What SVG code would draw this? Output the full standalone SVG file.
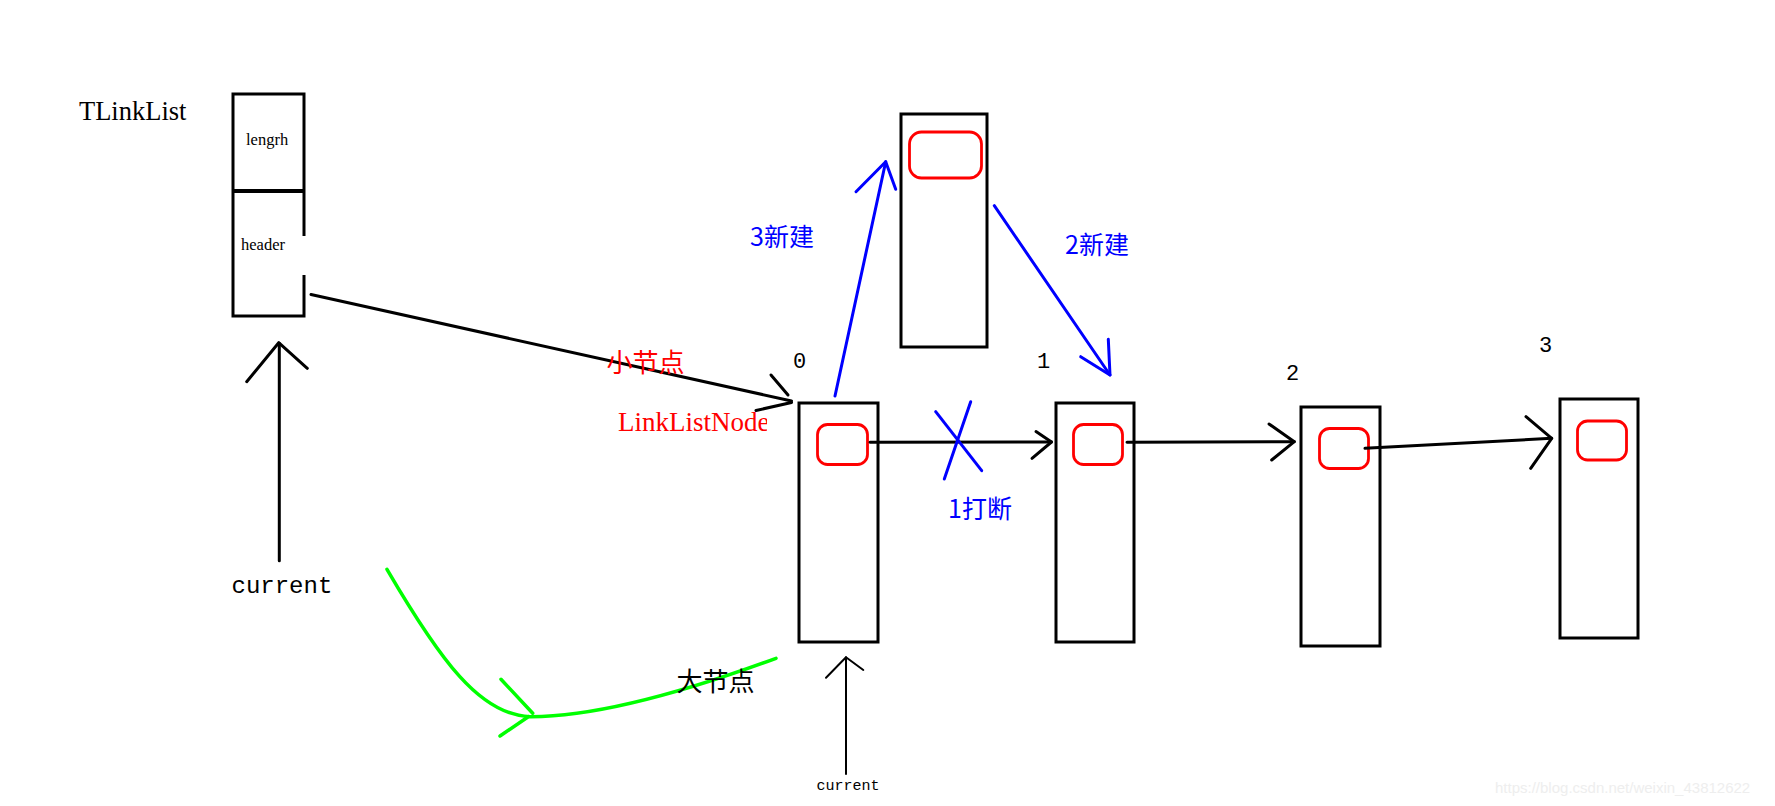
<svg xmlns="http://www.w3.org/2000/svg" width="1775" height="806" viewBox="0 0 1775 806">
<style>
.box{fill:#fff;stroke:#000;stroke-width:3}
.slot{fill:none;stroke:#f00;stroke-width:2.8}
.blk{fill:none;stroke:#000;stroke-width:3;stroke-linecap:round;stroke-linejoin:round}
.blu{fill:none;stroke:#00f;stroke-width:3;stroke-linecap:round;stroke-linejoin:round}
.grn{fill:none;stroke:#0f0;stroke-width:3.5;stroke-linecap:round;stroke-linejoin:round}
.serif{font-family:"Liberation Serif","Noto Sans CJK SC",serif}
.cjk{font-family:"Noto Sans CJK SC",sans-serif}
.mono{font-family:"Liberation Mono","DejaVu Sans Mono",monospace}
</style>
<defs>
<clipPath id="clipLLN"><rect x="0" y="380" width="767" height="80"/></clipPath>
</defs>
<rect width="1775" height="806" fill="#fff"/>

<g id="tlinklist">
<text x="79" y="120" class="serif" font-size="26.5">TLinkList</text>
<rect x="233" y="94" width="71" height="222" class="box"/>
<line x1="233" y1="191" x2="304" y2="191" stroke="#000" stroke-width="4"/>
<rect x="300" y="236" width="8" height="39" fill="#fff"/>
<text x="246" y="145" class="serif" font-size="16.5">lengrh</text>
<text x="241" y="250" class="serif" font-size="16.5">header</text>
</g>

<g id="node0">
<rect x="799" y="403" width="79" height="239" class="box"/>
<rect x="817.5" y="424.5" width="50" height="40" rx="10" class="slot"/>
<text x="793" y="368" class="mono" font-size="22">0</text>
</g>

<g id="node-new">
<rect x="901" y="114" width="86" height="233" class="box"/>
<rect x="909.5" y="132" width="72" height="46" rx="12" class="slot"/>
</g>

<g id="node1">
<rect x="1056" y="403" width="78" height="239" class="box"/>
<rect x="1073.5" y="424.5" width="49" height="40" rx="10" class="slot"/>
<text x="1037" y="368" class="mono" font-size="22">1</text>
</g>

<g id="node2">
<rect x="1301" y="407" width="79" height="239" class="box"/>
<rect x="1319.5" y="428.5" width="49" height="40" rx="10" class="slot"/>
<text x="1286" y="380" class="mono" font-size="22">2</text>
</g>

<g id="node3">
<rect x="1560" y="399" width="78" height="239" class="box"/>
<rect x="1577.5" y="421" width="49" height="39" rx="10" class="slot"/>
<text x="1539" y="352" class="mono" font-size="22">3</text>
</g>

<g id="connectors">
<line x1="311" y1="294.5" x2="791.5" y2="401" class="blk"/>
<polyline points="771,375 788,395" class="blk"/>
<polyline points="756,410.5 791.5,402.5" class="blk"/>
<line x1="870" y1="442.3" x2="1051.5" y2="442" class="blk"/>
<polyline points="1036,431.5 1051.5,442 1032,458.3" class="blk"/>
<line x1="1127" y1="442.3" x2="1294.3" y2="441.7" class="blk"/>
<polyline points="1269,424 1294.3,441.7 1271.7,460" class="blk"/>
<line x1="1365" y1="448.3" x2="1551.7" y2="438.3" class="blk"/>
<polyline points="1526,416.7 1551.7,438.3 1530.7,468.3" class="blk"/>
<line x1="935.7" y1="411.7" x2="981.7" y2="470.7" class="blu"/>
<line x1="970.7" y1="401.7" x2="944.3" y2="479" class="blu"/>
<line x1="835" y1="396" x2="885.7" y2="161.7" class="blu"/>
<polyline points="856,191.7 885.7,161.7 895.7,189.3" class="blu"/>
<line x1="994.3" y1="205.7" x2="1110" y2="375" class="blu"/>
<polyline points="1080.7,356.7 1110,375 1108.3,339.3" class="blu"/>
<line x1="279.3" y1="343.3" x2="279.3" y2="560.7" class="blk"/>
<polyline points="246.7,381.7 278.7,342.7 307.3,368.3" class="blk"/>
<line x1="846" y1="657.3" x2="846" y2="774" stroke="#000" stroke-width="2" stroke-linecap="round"/>
<polyline points="826,677.7 846,657.3 863.3,670" fill="none" stroke="#000" stroke-width="2" stroke-linecap="round" stroke-linejoin="round"/>
<path d="M387,569.3 C440,660 480,715 530,716.7 C600,717 690,690 776,658.3" class="grn"/>
<polyline points="501,679.3 532.7,713.3" class="grn"/>
<polyline points="500,736 528.3,716.7" class="grn"/>
</g>

<g id="labels">
<text x="606.5" y="371.5" class="cjk" font-size="26" fill="#f00">小节点</text>
<text x="618" y="431" class="serif" font-size="27" fill="#f00" clip-path="url(#clipLLN)">LinkListNode</text>
<text x="750" y="246" class="cjk" font-size="25" fill="#00f">3新建</text>
<text x="1065" y="254" class="cjk" font-size="25" fill="#00f">2新建</text>
<text x="948" y="517.5" class="cjk" font-size="25" fill="#00f">1打断</text>
<text x="231.5" y="592.7" class="mono" font-size="24">current</text>
<text x="676.5" y="690.5" class="cjk" font-size="26">大节点</text>
<text x="816.5" y="790" class="mono" font-size="15">current</text>
<text x="1495" y="793" font-family="Liberation Sans, Arial, sans-serif" font-size="15" fill="#eeeeee">https://blog.csdn.net/weixin_43812622</text>
</g>
</svg>
